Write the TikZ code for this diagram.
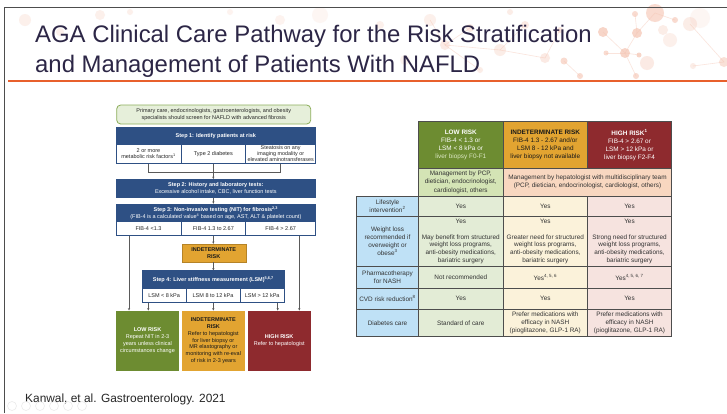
\documentclass[tikz,border=0pt]{standalone}
\usepackage{fontspec}
\setmainfont{Liberation Sans}
\usetikzlibrary{arrows.meta}
\definecolor{stepblue}{HTML}{2E5084}
\definecolor{lowg}{HTML}{6D8C31}
\definecolor{indo}{HTML}{E2A431}
\definecolor{highr}{HTML}{8E2A2E}
\definecolor{topfill}{HTML}{E6EFDA}
\definecolor{topg}{HTML}{8DAE5B}
\definecolor{rowblue}{HTML}{BFE1F6}
\definecolor{lowbody}{HTML}{E3ECD6}
\definecolor{lowmgmt}{HTML}{D4E4B5}
\definecolor{indbody}{HTML}{FBF2DA}
\definecolor{highbody}{HTML}{F6E3DF}
\definecolor{mgmt}{HTML}{F8D7C0}
\definecolor{gridc}{HTML}{4D4D4D}
\definecolor{txt}{HTML}{333333}
\definecolor{titlec}{HTML}{2C2646}
\definecolor{orangeline}{HTML}{E8602C}
\definecolor{decoc}{HTML}{F5C4B2}
\definecolor{conn}{HTML}{5A5A5A}
\begin{document}
\begin{tikzpicture}[x=1pt,y=-1pt,
  fc/.style={font=\fontsize{5.5}{6.5}\selectfont, align=center, inner sep=0pt},
  blk/.style={fc, fill=stepblue, text=white, draw=stepblue, line width=0.5pt},
  cellw/.style={fc, fill=white, draw=stepblue, line width=0.5pt, text=black!85},
  arr/.style={draw=conn, line width=0.5pt, -{Stealth[length=2.4pt,width=2.2pt]}},
  ln/.style={draw=conn, line width=0.5pt},
  tc/.style={font=\fontsize{6.4}{7.8}\selectfont, align=center, inner sep=0pt, draw=gridc, line width=0.6pt, text=txt},
  deco/.style={fill=decoc, draw=none},
  decoline/.style={draw=decoc, line width=0.6pt}
]
\useasboundingbox (0,0) rectangle (727,413);
\fill[white] (0,0) rectangle (727,413);

% ---------- background decoration ----------
\foreach \x/\y/\r/\o in {603/32/5/.7, 637/33/5/.7, 655/13/9/.6, 675/20/3/.6, 690/24/7/.3, 625/53/5/.7, 639/55/2.5/.7, 606/53/2.5/.6, 647/63/7/.35, 636/76/3/.6, 580/76/3/.6, 564/61/3.5/.6, 635/14/3/.6, 724/62/5/.5, 693/66/3/.3, 663/30/5/.3, 670/40/7/.25, 700/18/10/.15,
  445/45/5/.35, 470/28/4/.35, 500/50/6/.3, 525/25/4/.35, 545/58/5/.35, 480/70/3/.3, 430/20/6/.25, 560/30/3/.4, 510/12/3/.3,
  25/20/6/.25, 60/32/4/.25, 100/15/5/.25, 130/12/3/.25, 280/20/5/.2, 320/15/8/.15, 380/25/4/.25, 405/60/5/.2, 230/12/3/.2}
  \fill[deco, opacity=\o] (\x,\y) circle (\r);
\foreach \a/\b/\c/\d in {625/53/637/33, 637/33/655/13, 625/53/606/53, 625/53/639/55, 625/53/636/76, 603/32/625/53, 655/13/675/20, 693/66/724/62, 635/14/637/33, 580/76/564/61, 690/24/724/62, 445/45/470/28, 445/45/500/50, 500/50/525/25, 500/50/545/58, 545/58/560/30, 445/45/480/70, 430/20/445/45}
  \draw[decoline, opacity=.45] (\a,\b) -- (\c,\d);

% ---------- slide frame ----------
\draw[gridc, line width=0.9pt] (4.5,413) -- (4.5,7.5) -- (727,7.5);
\draw[orangeline, line width=1.5pt] (8,81) -- (727,81);

% ---------- title ----------
\node[anchor=base west, inner sep=0pt, text=titlec, font=\fontsize{23.9}{28}\selectfont] (t1) at (35,42) {AGA Clinical Care Pathway for the Risk Stratification};
\node[anchor=base west, inner sep=0pt, text=titlec, font=\fontsize{23.9}{28}\selectfont] (t2) at (35,72) {and Management of Patients With NAFLD};

% ---------- citation ----------
\node[anchor=base west, inner sep=0pt, text=black!85, font=\fontsize{11.9}{13}\selectfont] (cite) at (25,402) {Kanwal, et al. Gastroenterology. 2021};
\foreach \x in {12,26,40,54,68,82}
  \draw[black!8, line width=0.6pt] (\x,406) circle (4.5);

% ---------- flowchart ----------
\node[fc, draw=topg, fill=topfill, rounded corners=4pt, line width=0.8pt, minimum width=194pt, minimum height=19pt, text=black!85] (scr) at (213.7,114.5)
  {Primary care, endocrinologists, gastroenterologists, and obesity\\specialists should screen for NAFLD with advanced fibrosis};

\node[blk, minimum width=199.7pt, minimum height=16.6pt] (s1) at (215.85,136) {\bfseries Step 1: Identify patients at risk};
\node[cellw, minimum width=65pt, minimum height=19pt] (s1a) at (148.5,153.8) {2 or more\\metabolic risk factors\textsuperscript{1}};
\node[cellw, minimum width=64.7pt, minimum height=19pt] (s1b) at (213.35,153.8) {Type 2 diabetes};
\node[cellw, minimum width=70pt, minimum height=19pt, font=\fontsize{5.4}{6.0}\selectfont] (s1c) at (280.7,153.8) {Steatosis on any\\imaging modality or\\elevated aminotransferases};

\node[blk, minimum width=199.7pt, minimum height=18pt, font=\fontsize{5.5}{6.7}\selectfont] (s2) at (215.85,188.3) {\textbf{Step 2: History and laboratory tests:}\\Excessive alcohol intake, CBC, liver function tests};

\node[blk, minimum width=199.7pt, minimum height=17.7pt, font=\fontsize{5.5}{7.2}\selectfont] (s3) at (215.85,212.85) {\textbf{Step 3: Non-invasive testing (NIT) for fibrosis\textsuperscript{2,3}}\\(FIB-4 is a calculated value\textsuperscript{4} based on age, AST, ALT \& platelet count)};
\node[cellw, minimum width=65pt, minimum height=14pt] (s3a) at (148.5,228.7) {FIB-4 {\textless}1.3};
\node[cellw, minimum width=64.7pt, minimum height=14pt] (s3b) at (213.35,228.7) {FIB-4 1.3 to 2.67};
\node[cellw, minimum width=70pt, minimum height=14pt] (s3c) at (280.7,228.7) {FIB-4 {\textgreater} 2.67};

\node[fc, fill=indo, draw=indo!80!black, line width=0.3pt, minimum width=64pt, minimum height=18.3pt, text=black!90] (ind1) at (213.7,253.15) {\bfseries INDETERMINATE\\\bfseries RISK};

\node[blk, minimum width=142pt, minimum height=17.6pt] (s4) at (213.3,279.5) {\bfseries Step 4: Liver stiffness measurement (LSM)\textsuperscript{5,6,7}};
\node[cellw, minimum width=43.7pt, minimum height=14.4pt] (s4a) at (164.15,295.5) {LSM {\textless} 8 kPa};
\node[cellw, minimum width=54pt, minimum height=14.4pt] (s4b) at (213,295.5) {LSM 8 to 12 kPa};
\node[cellw, minimum width=44.3pt, minimum height=14.4pt] (s4c) at (262.15,295.5) {LSM {\textgreater} 12 kPa};

\node[fc, fill=lowg, minimum width=63pt, minimum height=60pt, text=white, font=\fontsize{5.5}{7.0}\selectfont] (low) at (147.5,340.7) {\textbf{LOW RISK}\\Repeat NIT in 2-3\\years unless clinical\\circumstances change};
\node[fc, fill=indo, minimum width=63.3pt, minimum height=60pt, text=black!90, font=\fontsize{5.5}{6.8}\selectfont] (ind2) at (213.35,340.7) {\textbf{INDETERMINATE}\\\textbf{RISK}\\Refer to hepatologist\\for liver biopsy or\\MR elastography or\\monitoring with re-eval\\of risk in 2-3 years};
\node[fc, fill=highr, minimum width=63pt, minimum height=60pt, text=white, font=\fontsize{5.5}{7.0}\selectfont] (high) at (279.2,340.7) {\textbf{HIGH RISK}\\Refer to hepatologist};

% connectors
\draw[ln] (s1a.south) ++(-0.2,0) coordinate (b1) -- ++(0,8.4) coordinate (b1e);
\draw[ln] (s1c.south) coordinate (b3) -- ++(0,8.4) coordinate (b3e);
\draw[ln] (b1e) -- (b3e);
\draw[arr] (s1b.south) -- (s2.north -| s1b.south);
\draw[arr] (s2.south -| s1b.south) -- (s3.north -| s1b.south);
\draw[arr] ([xshift=-19.5pt]s3a.south) coordinate (l1) -- (l1 |- low.north);
\draw[arr] (s3b.south) -- (ind1.north -| s3b.south);
\draw[arr] (ind1.south -| s3b.south) -- (s4.north -| s3b.south);
\draw[arr] ([xshift=18.6pt]s3c.south) coordinate (r1) -- (r1 |- high.north);
\draw[arr] ([xshift=-15.85pt]s4a.south) coordinate (l2) -- (l2 |- low.north);
\draw[arr] ([xshift=0.3pt]s4b.south) coordinate (m2) -- (m2 |- ind2.north);
\draw[arr] ([xshift=15.55pt]s4c.south) coordinate (r2) -- (r2 |- high.north);

% ---------- table ----------
% header
\node[tc, fill=lowg, text=white, minimum width=85pt, minimum height=46.6pt, font=\fontsize{6.4}{8.0}\selectfont] (hl) at (460.8,145) {\textbf{LOW RISK}\\FIB-4 {\textless} 1.3 or\\LSM {\textless} 8 kPa or\\\textcolor[HTML]{DCE8C4}{liver biopsy F0-F1}};
\node[tc, fill=indo, text=black!90, minimum width=84pt, minimum height=46.6pt, font=\fontsize{6.4}{8.0}\selectfont] (hi) at (545.3,145) {\textbf{INDETERMINATE RISK}\\FIB-4 1.3 - 2.67 and/or\\LSM 8 - 12 kPa and\\liver biopsy not available};
\node[tc, fill=highr, text=white, minimum width=84.4pt, minimum height=46.6pt, font=\fontsize{6.4}{8.0}\selectfont] (hh) at (629.5,145) {\textbf{HIGH RISK\textsuperscript{1}}\\FIB-4 {\textgreater} 2.67 or\\LSM {\textgreater} 12 kPa or\\liver biopsy F2-F4};
% management row
\node[tc, fill=lowmgmt, minimum width=85pt, minimum height=27.7pt, font=\fontsize{6.4}{8.3}\selectfont] (ml) at (460.8,182.15) {Management by PCP,\\dietician, endocrinologist,\\cardiologist, others};
\node[tc, fill=mgmt, minimum width=168.4pt, minimum height=27.7pt, font=\fontsize{6.4}{8.3}\selectfont] (mr) at (587.5,182.15) {Management by hepatologist with multidisciplinary team\\(PCP, dietician, endocrinologist, cardiologist, others)};
% lifestyle
\node[tc, fill=rowblue, minimum width=61.6pt, minimum height=20pt] (r1h) at (387.5,206) {Lifestyle\\intervention\textsuperscript{2}};
\node[tc, fill=lowbody, minimum width=85pt, minimum height=20pt] (r1l) at (460.8,206) {Yes};
\node[tc, fill=indbody, minimum width=84pt, minimum height=20pt] (r1i) at (545.3,206) {Yes};
\node[tc, fill=highbody, minimum width=84.4pt, minimum height=20pt] (r1r) at (629.5,206) {Yes};
% weight loss
\node[tc, fill=rowblue, minimum width=61.6pt, minimum height=50.7pt] (r2h) at (387.5,241.35) {Weight loss\\recommended if\\overweight or\\obese\textsuperscript{3}};
\node[tc, fill=lowbody, minimum width=85pt, minimum height=50.7pt, font=\fontsize{6.4}{7.7}\selectfont] (r2l) at (460.8,241.35) {Yes\\[7.7pt]May benefit from structured\\weight loss programs,\\anti-obesity medications,\\bariatric surgery};
\node[tc, fill=indbody, minimum width=84pt, minimum height=50.7pt, font=\fontsize{6.4}{7.7}\selectfont] (r2i) at (545.3,241.35) {Yes\\[7.7pt]Greater need for structured\\weight loss programs,\\anti-obesity medications,\\bariatric surgery};
\node[tc, fill=highbody, minimum width=84.4pt, minimum height=50.7pt, font=\fontsize{6.4}{7.7}\selectfont] (r2r) at (629.5,241.35) {Yes\\[7.7pt]Strong need for structured\\weight loss programs,\\anti-obesity medications,\\bariatric surgery};
% pharmacotherapy
\node[tc, fill=rowblue, minimum width=61.6pt, minimum height=21.6pt] (r3h) at (387.5,277.5) {Pharmacotherapy\\for NASH};
\node[tc, fill=lowbody, minimum width=85pt, minimum height=21.6pt] (r3l) at (460.8,277.5) {Not recommended};
\node[tc, fill=indbody, minimum width=84pt, minimum height=21.6pt] (r3i) at (545.3,277.5) {Yes\textsuperscript{4, 5, 6}};
\node[tc, fill=highbody, minimum width=84.4pt, minimum height=21.6pt] (r3r) at (629.5,277.5) {Yes\textsuperscript{4, 5, 6, 7}};
% CVD
\node[tc, fill=rowblue, minimum width=61.6pt, minimum height=20.7pt] (r4h) at (387.5,298.65) {CVD risk reduction\textsuperscript{8}};
\node[tc, fill=lowbody, minimum width=85pt, minimum height=20.7pt] (r4l) at (460.8,298.65) {Yes};
\node[tc, fill=indbody, minimum width=84pt, minimum height=20.7pt] (r4i) at (545.3,298.65) {Yes};
\node[tc, fill=highbody, minimum width=84.4pt, minimum height=20.7pt] (r4r) at (629.5,298.65) {Yes};
% diabetes
\node[tc, fill=rowblue, minimum width=61.6pt, minimum height=27.7pt] (r5h) at (387.5,322.85) {Diabetes care};
\node[tc, fill=lowbody, minimum width=85pt, minimum height=27.7pt] (r5l) at (460.8,322.85) {Standard of care};
\node[tc, fill=indbody, minimum width=84pt, minimum height=27.7pt] (r5i) at (545.3,322.85) {Prefer medications with\\efficacy in NASH\\(pioglitazone, GLP-1 RA)};
\node[tc, fill=highbody, minimum width=84.4pt, minimum height=27.7pt] (r5r) at (629.5,322.85) {Prefer medications with\\efficacy in NASH\\(pioglitazone, GLP-1 RA)};
\end{tikzpicture}
\end{document}
